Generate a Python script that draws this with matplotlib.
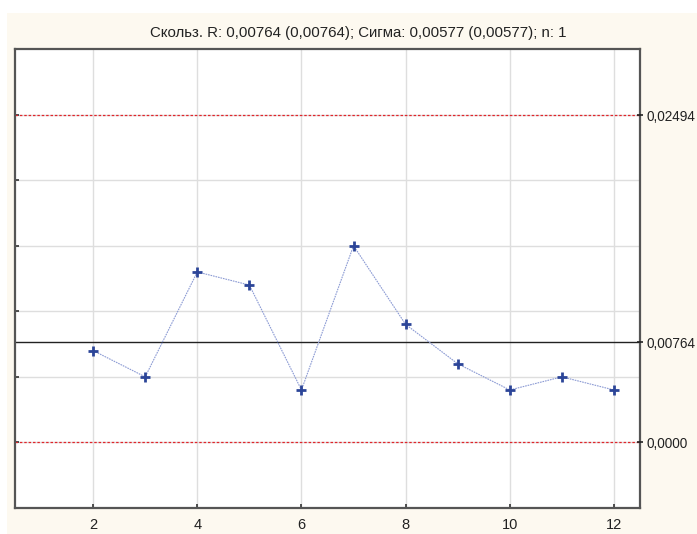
import matplotlib
matplotlib.use("Agg")
import matplotlib.pyplot as plt
from matplotlib.patches import Rectangle

# Moving range chart data
samples = [2, 3, 4, 5, 6, 7, 8, 9, 10, 11, 12]
moving_range = [0.007, 0.005, 0.013, 0.012, 0.004, 0.015, 0.009, 0.006, 0.004, 0.005, 0.004]
center_line = 0.00764
upper_limit = 0.02494
lower_limit = 0.0
limit_labels = ["0,02494", "0,00764", "0,0000"]
x_ticks = [2, 4, 6, 8, 10, 12]
title = "Скольз. R: 0,00764 (0,00764); Сигма: 0,00577 (0,00577); n: 1"

plt.rcParams["font.family"] = ["Liberation Sans", "DejaVu Sans"]

W, H = 697, 534
fig = plt.figure(figsize=(W / 100, H / 100), dpi=100, facecolor="white")
cream = "#fdf9f0"
fig.patches.append(Rectangle((7 / W, 0), 1 - 7 / W, 1 - 13 / H,
                             transform=fig.transFigure, facecolor=cream,
                             edgecolor="none", zorder=-10))

ax = fig.add_axes([15 / W, 1 - 508 / H, (640 - 15) / W, (508 - 49) / H])
ax.set_facecolor("white")
ax.set_xlim(0.5, 12.5)
ax.set_ylim(-0.005, 0.030)

# grid
ax.set_xticks(x_ticks)
ax.set_xticklabels([str(t) for t in x_ticks], fontsize=10.5, color="#222222")
yt = [-0.005, 0.0, 0.005, 0.010, 0.015, 0.020, 0.025]
ax.set_yticks(yt)
ax.set_yticklabels([])
ax.grid(True, color="#dedede", linewidth=1.0, zorder=0)
ax.set_axisbelow(True)
ax.tick_params(axis="both", direction="in", length=3, width=1.2, color="#333333")
ax.tick_params(axis="x", pad=7)

for s in ax.spines.values():
    s.set_color("#555555")
    s.set_linewidth(1.6)

# control limits
ax.axhline(upper_limit, color="#e0262b", linewidth=0.9, linestyle=(0, (2, 1.5)), zorder=2)
ax.axhline(lower_limit, color="#e0262b", linewidth=0.9, linestyle=(0, (2, 1.5)), zorder=2)
ax.axhline(center_line, color="#222222", linewidth=1.0, zorder=2)

# data
ax.plot(samples, moving_range, color="#8c9bd4", linewidth=0.8,
        linestyle=(0, (1.5, 0.8)), zorder=3)
ax.plot(samples, moving_range, linestyle="none", marker="+", markersize=7,
        markeredgewidth=2.0, color="#2c4598", zorder=4)

# right-hand limit labels
ax2 = ax.twinx()
ax2.set_ylim(ax.get_ylim())
ax2.set_yticks([upper_limit, center_line, lower_limit])
ax2.set_yticklabels(limit_labels, fontsize=9.8, color="#222222")
ax2.tick_params(axis="y", direction="inout", length=5, width=1.2, color="#222222", pad=2)
for s in ax2.spines.values():
    s.set_visible(False)

fig.text(358 / W, 1 - 33 / H, title, ha="center", va="center", fontsize=10.8, color="#222222")

fig.savefig("out.png", dpi=100, facecolor="white")
